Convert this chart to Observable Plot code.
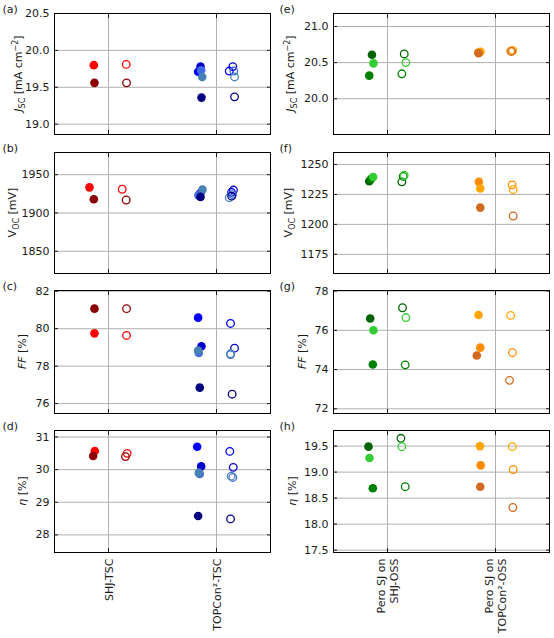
<!DOCTYPE html>
<html>
<head>
<meta charset="utf-8">
<script src="https://cdn.jsdelivr.net/npm/d3@7"></script>
<script src="https://cdn.jsdelivr.net/npm/@observablehq/plot@0.6"></script>
<style>
  body { margin: 0; background: white; }
  #chart { position: relative; width: 554px; height: 638px; }
  #chart svg { position: absolute; overflow: visible; }
</style>
</head>
<body>
<div id="chart"></div>
<script>
// categories on the x axis
const tscCategories = ["SHJ-TSC", "TOPCon²-TSC"];
const ossCategories = ["Pero SJ on\nSHJ-OSS", "Pero SJ on\nTOPCon²-OSS"];

// devices of the left column (tandem cells) and of the right column
const tscDevices = ["SHJ 1", "SHJ 2", "TOPCon 1", "TOPCon 2", "TOPCon 3", "TOPCon 4", "TOPCon 5"];
const tscGroup = [1, 1, 2, 2, 2, 2, 2];
const ossDevices = ["SHJ-OSS 1", "SHJ-OSS 2", "SHJ-OSS 3", "TOPCon-OSS 1", "TOPCon-OSS 2", "TOPCon-OSS 3"];
const ossGroup = [1, 1, 1, 2, 2, 2];

const tscColors = ["red", "darkred", "blue", "mediumblue", "royalblue", "steelblue", "navy"];
const ossColors = ["darkgreen", "green", "limegreen", "darkorange", "orange", "chocolate"];

// (a) Jsc, tandem
const jscTscFilled = [19.80, 19.56, 19.71, 19.78, 19.73, 19.64, 19.36];
const jscTscOpen   = [19.81, 19.56, 19.72, 19.78, 19.72, 19.64, 19.37];
const jscTscJitF   = [-0.136, -0.130, -0.170, -0.148, -0.142, -0.132, -0.139];
const jscTscJitO   = [0.164, 0.167, 0.118, 0.151, 0.160, 0.167, 0.167];
// (b) Voc, tandem
const vocTscFilled = [1933.5, 1918, 1924, 1926, 1923, 1930.5, 1921];
const vocTscOpen   = [1931, 1917, 1927, 1930, 1924, 1920, 1922];
const vocTscJitF   = [-0.176, -0.136, -0.157, -0.148, -0.167, -0.130, -0.148];
const vocTscJitO   = [0.127, 0.164, 0.139, 0.157, 0.148, 0.118, 0.140];
// (c) FF, tandem
const ffTscFilled = [79.75, 81.07, 80.59, 79.06, 78.70, 78.83, 76.85];
const ffTscOpen   = [79.64, 81.07, 80.28, 78.96, 78.62, 78.66, 76.50];
const ffTscJitF   = [-0.130, -0.130, -0.170, -0.139, -0.164, -0.170, -0.155];
const ffTscJitO   = [0.167, 0.167, 0.130, 0.167, 0.130, 0.130, 0.145];
// (d) efficiency, tandem
const etaTscFilled = [30.57, 30.42, 30.70, 30.10, 29.87, 29.90, 28.58];
const etaTscOpen   = [30.50, 30.40, 30.56, 30.07, 29.76, 29.80, 28.49];
const etaTscJitF   = [-0.127, -0.142, -0.179, -0.142, -0.155, -0.164, -0.170];
const etaTscJitO   = [0.173, 0.157, 0.123, 0.155, 0.151, 0.136, 0.130];

// (e) Jsc, perovskite single junction
const jscOssFilled = [20.61, 20.32, 20.49, 20.64, 20.65, 20.63];
const jscOssOpen   = [20.62, 20.345, 20.50, 20.66, 20.67, 20.655];
const jscOssJitF   = [-0.144, -0.169, -0.130, -0.160, -0.139, -0.157];
const jscOssJitO   = [0.155, 0.133, 0.170, 0.140, 0.160, 0.150];
// (f) Voc
const vocOssFilled = [1236, 1238, 1239.5, 1235.5, 1230, 1214];
const vocOssOpen   = [1235.5, 1240, 1241, 1233, 1229, 1207];
const vocOssJitF   = [-0.169, -0.151, -0.133, -0.154, -0.141, -0.141];
const vocOssJitO   = [0.133, 0.145, 0.155, 0.154, 0.164, 0.164];
// (g) FF
const ffOssFilled = [76.60, 74.26, 76.00, 75.12, 76.78, 74.72];
const ffOssOpen   = [77.15, 74.24, 76.65, 74.86, 76.76, 73.45];
const ffOssJitF   = [-0.160, -0.136, -0.130, -0.141, -0.157, -0.173];
const ffOssJitO   = [0.139, 0.164, 0.170, 0.157, 0.140, 0.130];
// (h) efficiency
const etaOssFilled = [19.49, 18.69, 19.27, 19.13, 19.50, 18.72];
const etaOssOpen   = [19.65, 18.72, 19.49, 19.05, 19.49, 18.32];
const etaOssJitF   = [-0.176, -0.136, -0.167, -0.137, -0.144, -0.141];
const etaOssJitO   = [0.124, 0.164, 0.133, 0.164, 0.155, 0.161];

const ink = "#1a1a1a";
const gridColor = "#b0b0b0";
const rowTop = [13, 152, 290, 430];
const frameH = [121, 121, 123, 122];

// axis titles with sub/superscripts
function jscLabel(t) {
  t.append("tspan").attr("font-style", "italic").text("J");
  t.append("tspan").attr("font-size", 8).attr("dy", 2.5).text("SC");
  t.append("tspan").attr("dy", -2.5).text(" [mA cm");
  t.append("tspan").attr("font-size", 8).attr("dy", -4).text("−2");
  t.append("tspan").attr("dy", 4).text("]");
}
function vocLabel(t) {
  t.append("tspan").text("V");
  t.append("tspan").attr("font-size", 8).attr("dy", 2.5).text("OC");
  t.append("tspan").attr("dy", -2.5).text(" [mV]");
}
function ffLabel(t) {
  t.append("tspan").attr("font-style", "italic").text("FF");
  t.append("tspan").text(" [%]");
}
function etaLabel(t) {
  t.append("tspan").attr("font-style", "italic").text("η");
  t.append("tspan").text(" [%]");
}

function panel(p) {
  const left = p.col === 0;
  const devices = left ? tscDevices : ossDevices;
  const group = left ? tscGroup : ossGroup;
  const cats = left ? tscCategories : ossCategories;
  const filled = devices.map((d, i) => ({device: d, x: group[i] + p.jitF[i], y: p.filled[i]}));
  const open = devices.map((d, i) => ({device: d, x: group[i] + p.jitO[i], y: p.open[i]}));
  const last = p.row === 3;
  const fh = frameH[p.row];
  const mb = last ? 86 : 3;
  const ml = left ? 54 : 56;
  const plot = Plot.plot({
    width: 277,
    height: 13 + fh + mb,
    marginLeft: ml,
    marginRight: left ? 7 : 5,
    marginTop: 13,
    marginBottom: mb,
    style: {fontFamily: "DejaVu Sans", fontSize: "11px", color: ink, overflow: "visible"},
    x: {domain: [0.5, 2.5]},
    y: {domain: p.domain},
    color: {domain: devices, range: left ? tscColors : ossColors},
    marks: [
      Plot.gridY(p.ticks, {stroke: gridColor, strokeOpacity: 1}),
      Plot.gridX([1, 2], {stroke: gridColor, strokeOpacity: 1}),
      Plot.axisY(p.ticks, {anchor: "left", tickSize: 0, tickPadding: 5, tickFormat: p.fmt, label: null}),
      Plot.axisY(p.ticks, {anchor: "left", tickSize: 4, dx: 4, tickFormat: () => "", label: null}),
      Plot.axisY(p.ticks, {anchor: "right", tickSize: 4, dx: -4, tickFormat: () => "", label: null}),
      Plot.axisX([1, 2], {anchor: "top", tickSize: 4, dy: 4, tickFormat: () => "", label: null}),
      Plot.axisX([1, 2], {anchor: "bottom", tickSize: 4, dy: -4, tickFormat: () => "", label: null}),
      last ? Plot.axisX([1, 2], {anchor: "bottom", tickSize: 0, tickPadding: 6, tickRotate: -90,
        tickFormat: (d) => cats[d - 1], lineHeight: 1.2, label: null}) : null,
      Plot.frame({stroke: "black", strokeWidth: 1}),
      Plot.dot(filled, {x: "x", y: "y", fill: "device", r: 4.3}),
      Plot.dot(open, {x: "x", y: "y", stroke: "device", r: 3.8, strokeWidth: 1.3}),
      Plot.text([p.letter], {frameAnchor: "top-left", textAnchor: "start", lineAnchor: "bottom",
        dx: 2 - ml, dy: -0.5, fontSize: 11})
    ]
  });
  const svg = d3.select(plot);
  const t = svg.append("text")
    .attr("transform", `translate(${p.labelX},${13 + fh / 2}) rotate(-90)`)
    .attr("text-anchor", "middle")
    .attr("fill", ink)
    .attr("font-size", 11);
  p.label(t);
  plot.style.left = `${left ? 0 : 277}px`;
  plot.style.top = `${rowTop[p.row] - 13}px`;
  document.getElementById("chart").appendChild(plot);
}

const f1 = d3.format(".1f");
const f0 = d3.format("d");

panel({col: 0, row: 0, letter: "(a)", label: jscLabel, labelX: 22, domain: [18.86, 20.5], ticks: [19, 19.5, 20, 20.5], fmt: f1,
  filled: jscTscFilled, open: jscTscOpen, jitF: jscTscJitF, jitO: jscTscJitO});
panel({col: 0, row: 1, letter: "(b)", label: vocLabel, labelX: 16, domain: [1821, 1979], ticks: [1850, 1900, 1950], fmt: f0,
  filled: vocTscFilled, open: vocTscOpen, jitF: vocTscJitF, jitO: vocTscJitO});
panel({col: 0, row: 2, letter: "(c)", label: ffLabel, labelX: 26, domain: [75.47, 82.04], ticks: [76, 78, 80, 82], fmt: f0,
  filled: ffTscFilled, open: ffTscOpen, jitF: ffTscJitF, jitO: ffTscJitO});
panel({col: 0, row: 3, letter: "(d)", label: etaLabel, labelX: 26, domain: [27.46, 31.2], ticks: [28, 29, 30, 31], fmt: f0,
  filled: etaTscFilled, open: etaTscOpen, jitF: etaTscJitF, jitO: etaTscJitO});

panel({col: 1, row: 0, letter: "(e)", label: jscLabel, labelX: 17, domain: [19.505, 21.18], ticks: [20, 20.5, 21], fmt: f1,
  filled: jscOssFilled, open: jscOssOpen, jitF: jscOssJitF, jitO: jscOssJitO});
panel({col: 1, row: 1, letter: "(f)", label: vocLabel, labelX: 15, domain: [1159, 1260], ticks: [1175, 1200, 1225, 1250], fmt: f0,
  filled: vocOssFilled, open: vocOssOpen, jitF: vocOssJitF, jitO: vocOssJitO});
panel({col: 1, row: 2, letter: "(g)", label: ffLabel, labelX: 29, domain: [71.76, 78.03], ticks: [72, 74, 76, 78], fmt: f0,
  filled: ffOssFilled, open: ffOssOpen, jitF: ffOssJitF, jitO: ffOssJitO});
panel({col: 1, row: 3, letter: "(h)", label: etaLabel, labelX: 19, domain: [17.455, 19.8], ticks: [17.5, 18, 18.5, 19, 19.5], fmt: f1,
  filled: etaOssFilled, open: etaOssOpen, jitF: etaOssJitF, jitO: etaOssJitO});
</script>
</body>
</html>
